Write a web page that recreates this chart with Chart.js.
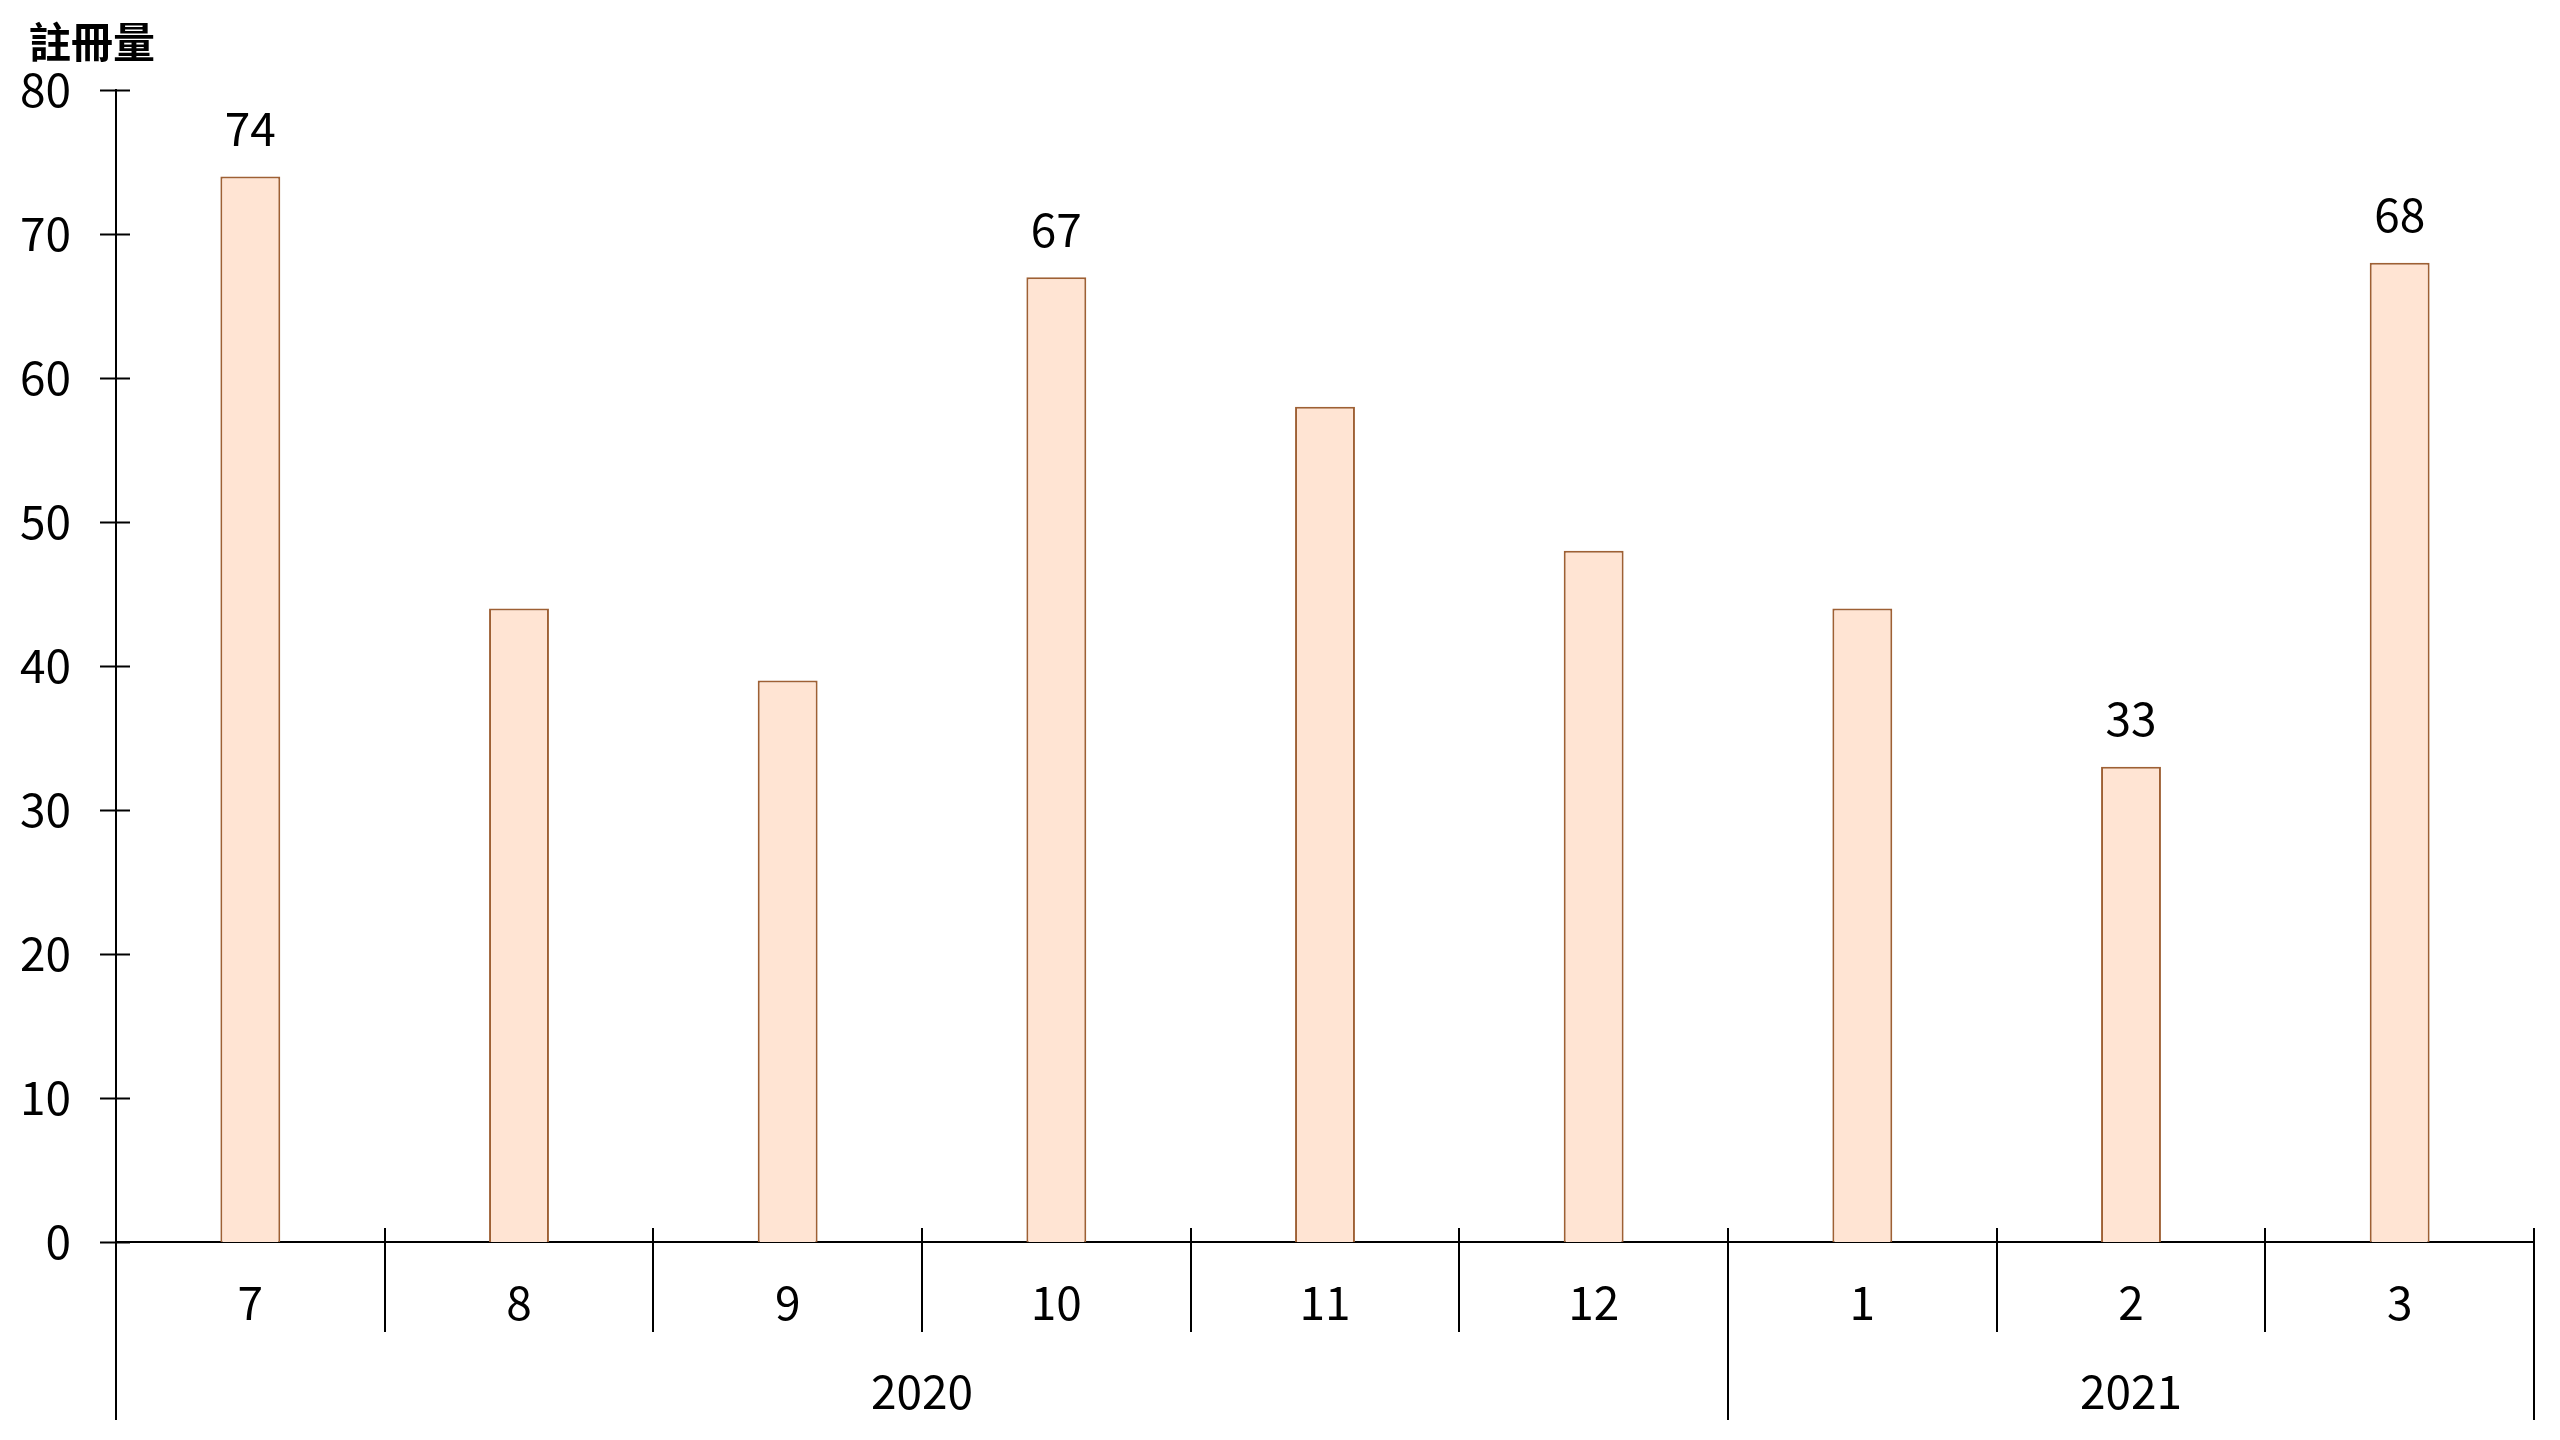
<!DOCTYPE html>
<html>
<head>
<meta charset="utf-8">
<script src="https://cdn.jsdelivr.net/npm/chart.js@4/dist/chart.umd.min.js"></script>
<style>
  html, body { margin: 0; padding: 0; background: #fff; }
  #wrap { width: 2560px; height: 1440px; }
</style>
</head>
<body>
<div id="wrap"><canvas id="chart" width="2560" height="1440"></canvas></div>
<script>
// data
var months = ['7', '8', '9', '10', '11', '12', '1', '2', '3'];
var years = ['2020', '2021'];
var yearSpans = [6, 3];
var registrations = [74, 44, 39, 67, 58, 48, 44, 33, 68];
var labeledBars = [0, 3, 7, 8];
var yMin = 0, yMax = 80, yStep = 10;
var yTitle = '註冊量';

var FONT = '"Noto Sans CJK TC", "Noto Sans", sans-serif';

// draws the title, axis ticks, the two-level x axis and the value labels
var extrasPlugin = {
    id: 'extras',
    afterDraw: function(chart) {
        var ctx = chart.ctx;
        var xs = chart.scales.x;
        var ys = chart.scales.y;
        var y0 = ys.getPixelForValue(0);
        var cw = xs.getPixelForValue(1) - xs.getPixelForValue(0);
        ctx.save();
        ctx.strokeStyle = '#000';
        ctx.lineWidth = 2;

        // y ticks crossing the axis
        ys.ticks.forEach(function(t) {
            var py = Math.round(ys.getPixelForValue(t.value)) + 0.5;
            ctx.beginPath();
            ctx.moveTo(xs.left - 16, py);
            ctx.lineTo(xs.left + 14, py);
            ctx.stroke();
        });

        // category separators
        var groupEnds = [];
        var acc = 0;
        yearSpans.forEach(function(s) { acc += s; groupEnds.push(acc); });
        for (var i = 0; i <= months.length; i++) {
            var bx = Math.round(xs.getPixelForValue(0) - cw / 2 + i * cw);
            var top = y0 - 14, bottom = y0 + 90;
            if (i === 0) { top = y0; bottom = y0 + 178; }
            else if (groupEnds.indexOf(i) >= 0) { bottom = y0 + 178; }
            ctx.beginPath();
            ctx.moveTo(bx, top);
            ctx.lineTo(bx, bottom);
            ctx.stroke();
        }

        // year labels
        ctx.fillStyle = '#000';
        ctx.font = '46px ' + FONT;
        ctx.textAlign = 'center';
        ctx.textBaseline = 'middle';
        var start = 0;
        years.forEach(function(yr, k) {
            var a = xs.getPixelForValue(start) - cw / 2;
            var b = xs.getPixelForValue(start + yearSpans[k] - 1) + cw / 2;
            ctx.fillText(yr, (a + b) / 2, y0 + 150);
            start += yearSpans[k];
        });

        // value labels
        var meta = chart.getDatasetMeta(0);
        labeledBars.forEach(function(idx) {
            var bar = meta.data[idx];
            ctx.fillText(String(registrations[idx]), bar.x, bar.y - 48);
        });

        // axis title
        ctx.font = 'bold 42px ' + FONT;
        ctx.textAlign = 'left';
        ctx.fillText(yTitle, 29, 42);
        ctx.restore();
    }
};

var canvas = document.getElementById('chart');
new Chart(canvas.getContext('2d'), {
    type: 'bar',
    data: {
        labels: months,
        datasets: [{
            data: registrations,
            backgroundColor: '#FFE4D3',
            borderColor: '#9E6034',
            borderWidth: 2,
            categoryPercentage: 1,
            barPercentage: 0.223
        }]
    },
    options: {
        responsive: false,
        animation: false,
        devicePixelRatio: 1,
        layout: { padding: { left: 0, right: 26, top: 90, bottom: 0 } },
        plugins: {
            legend: { display: false },
            tooltip: { enabled: false }
        },
        scales: {
            x: {
                grid: { display: false, drawTicks: false },
                border: { display: true, color: '#000', width: 2 },
                ticks: {
                    color: '#000',
                    font: { family: FONT, size: 46 },
                    padding: 33
                },
                afterFit: function(scale) { scale.height = 198; }
            },
            y: {
                min: yMin,
                max: yMax,
                grid: { display: false, drawTicks: false },
                border: { display: true, color: '#000', width: 2 },
                ticks: {
                    stepSize: yStep,
                    color: '#000',
                    font: { family: FONT, size: 46 },
                    padding: 45
                },
                afterFit: function(scale) { scale.width = 116; }
            }
        }
    },
    plugins: [extrasPlugin]
});
</script>
</body>
</html>
